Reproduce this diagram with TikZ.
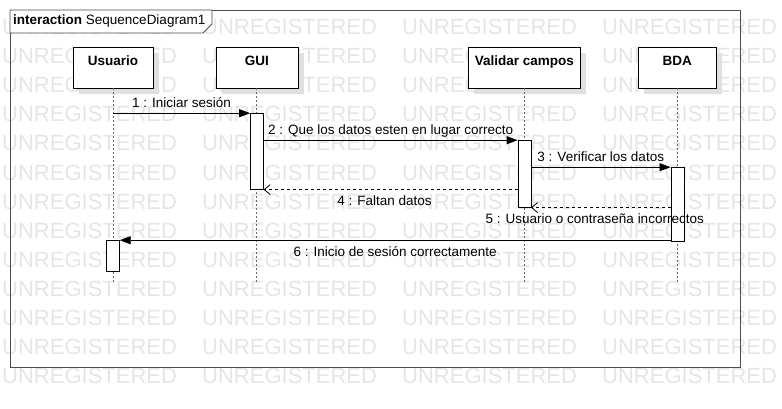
\documentclass[tikz,border=0pt]{standalone}
\usepackage{fontspec}
\setmainfont{Liberation Sans}
\usetikzlibrary{positioning,arrows.meta,shadows}

\begin{document}
\begin{tikzpicture}
[x=1pt,y=-1pt,
 font=\fontsize{13.5}{16}\selectfont,
 head/.style={draw=black,fill=white,font=\fontsize{13.5}{16}\selectfont\bfseries,
   inner xsep=4pt,inner ysep=0pt,text height=18.5pt,text depth=22.5pt,
   drop shadow={shadow xshift=6pt,shadow yshift=-6pt,fill=black!12,opacity=1}},
 act/.style={draw=black,fill=white,minimum width=13pt,inner sep=0pt},
 life/.style={draw=black!60,dash pattern=on 2pt off 2pt,line width=0.9pt},
 msg/.style={draw=black,line width=0.8pt,-{Triangle[length=11pt,width=8pt]}},
 ret/.style={draw=black,line width=0.8pt,dash pattern=on 3pt off 3pt,
   -{Straight Barb[length=6pt,width=10pt]}},
 lbl/.style={inner sep=2pt,text height=10pt,text depth=3pt},
 wmark/.style={text=black!10,font=\fontsize{22}{22}\selectfont,anchor=west,inner sep=0pt}]
\useasboundingbox (0,0) rectangle (782,409);
% watermark
\foreach \r in {0,...,12}
  \foreach \c in {0,...,3}
    \node[wmark] (wm-\r-\c) at (2+200*\c,27+29.1*\r) {UNREGISTERED};
% frame
\draw[black!70,line width=0.9pt] (10,10) rectangle (740,367);
\filldraw[fill=white,draw=black!70,line width=0.9pt] (10,10) -- (10,33) -- (203,33) -- (212,24) -- (212,10) -- cycle;
\node[anchor=west,inner sep=0pt] (title) at (13,21) {\textbf{interaction} SequenceDiagram1};
% lifelines
\node[head,minimum width=80pt] (usuario) at (113,67.5) {Usuario};
\node[head,minimum width=82pt,right=62.5pt of usuario] (gui) {GUI};
\node[head,minimum width=112pt,right=170pt of gui] (validar) {Validar campos};
\node[head,minimum width=78pt,right=57.5pt of validar] (bda) {BDA};
\coordinate[below=194pt of usuario] (usuend);
\coordinate[below=194pt of gui] (guiend);
\coordinate[below=194pt of validar] (valend);
\coordinate[below=194pt of bda] (bdaend);
\draw[life] (usuario) -- (usuend);
\draw[life] (gui) -- (guiend);
\draw[life] (validar) -- (valend);
\draw[life] (bda) -- (bdaend);
% activations
\node[act,minimum height=76pt,below=25pt of gui] (actgui) {};
\node[act,minimum height=67pt,below=52pt of validar] (actval) {};
\node[act,minimum height=74pt,below=79pt of bda] (actbda) {};
\node[act,minimum height=31pt,below=152pt of usuario] (actusu) {};
% messages
\coordinate (m1) at (usuario.south |- actgui.north);
\draw[msg] (m1) -- (actgui.north west) node[lbl,midway,above=0.5pt] {1 : Iniciar sesión};
\coordinate (m2) at (actgui.east |- actval.north);
\draw[msg] (m2) -- (actval.north west) node[lbl,midway,above=0.5pt] {2 : Que los datos esten en lugar correcto};
\coordinate (m3) at (actval.east |- actbda.north);
\draw[msg] (m3) -- (actbda.north west) node[lbl,midway,above=0.5pt] {3 : Verificar los datos};
\coordinate (m4) at (actval.west |- actgui.south);
\draw[ret] (m4) -- (actgui.south east) node[lbl,midway,below=3.5pt,xshift=-6pt] {4 : Faltan datos};
\coordinate (m5) at (actbda.west |- actval.south);
\draw[ret] (m5) -- (actval.south east) node[lbl,midway,below=3.5pt,xshift=-6pt] {5 : Usuario o contraseña incorrectos};
\coordinate (m6) at (actbda.west |- actusu.north);
\draw[msg] (m6) -- (actusu.north east) node[lbl,midway,below=3.5pt] {6 : Inicio de sesión correctamente};
\end{tikzpicture}
\end{document}
